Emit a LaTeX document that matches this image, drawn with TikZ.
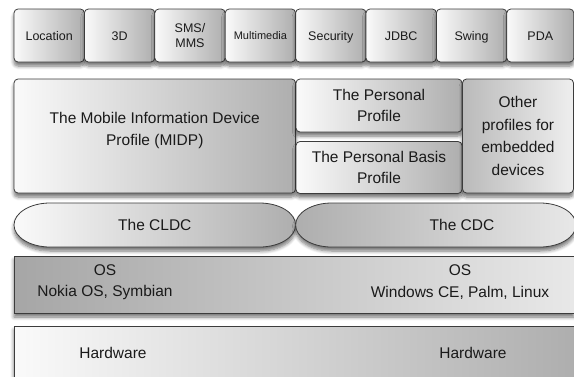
\documentclass[tikz,border=0pt]{standalone}
\usepackage{fontspec}
\setmainfont{Liberation Sans}
\usetikzlibrary{shadows.blur}
\definecolor{bord}{HTML}{3C3C3C}
\definecolor{txt}{HTML}{1A1A1A}
\definecolor{lite}{HTML}{FAFAFA}
\definecolor{dark}{HTML}{AEAEAE}
\definecolor{osdark}{HTML}{A6A6A6}
\definecolor{osmid}{HTML}{E2E2E2}
\definecolor{oslite}{HTML}{E8E8E8}
\begin{document}
\begin{tikzpicture}[x=1pt,y=-1pt,
  shad/.style={blur shadow={shadow xshift=0pt,shadow yshift=-4pt,shadow blur steps=6,shadow opacity=55,shadow blur radius=3.5pt}},
  box/.style={draw=bord,line width=0.8pt,rounded corners=4pt,inner sep=0pt,align=center,text=txt,shad,left color=lite,right color=dark},
  topbox/.style={box,minimum width=70.4pt,minimum height=53pt,font=\fontsize{12.5}{15}\selectfont},
  one/.style={text height=9pt,text depth=0pt},
  big/.style={font=\fontsize{15.5}{21.5}\selectfont,text=txt,align=center,inner sep=0pt},
  capsule/.style={draw=bord,line width=0.8pt,shad}]
\useasboundingbox (0,0) rectangle (574,376);
% top row
\node[topbox,one] (loc) at (49.2,35.5) {Location};
\node[topbox,one] (tdd) at (119.6,35.5) {3D};
\node[topbox] (sms) at (190.0,35.5) {SMS/\\MMS};
\node[topbox,one,font=\fontsize{11}{13}\selectfont,text height=8pt] (mm) at (260.4,35.5) {Multimedia};
\node[topbox,one] (sec) at (330.8,35.5) {Security};
\node[topbox,one] (jdbc) at (401.2,35.5) {JDBC};
\node[topbox,one] (swing) at (471.6,35.5) {Swing};
\node[topbox,one,minimum width=67pt] (pda) at (540.3,35.5) {PDA};
% profiles
\node[box,minimum width=281.6pt,minimum height=114pt] (midp) at (154.8,136) {};
\node[big] (midpt) at (154.8,130.5) {The Mobile Information Device\\Profile (MIDP)};
\node[box,big,minimum width=166pt,minimum height=53pt,left color=lite,right color=dark] (pp) at (379,105.5) {The Personal\\Profile};
\node[box,big,minimum width=166pt,minimum height=52pt,left color=lite,right color=dark] (pbp) at (379,167.5) {The Personal Basis\\Profile};
\node[box,big,minimum width=111pt,minimum height=114pt,left color=dark!85,right color=lite!85!dark,font=\fontsize{15.5}{22.5}\selectfont] (other) at (518,136) {Other\\profiles for\\embedded\\devices};
% configurations
\path[capsule,left color=lite,right color=dark]
  (50,203) -- (259.6,203) arc[start angle=90,end angle=-90,x radius=36pt,y radius=22pt]
  -- (50,247) arc[start angle=270,end angle=90,x radius=36pt,y radius=22pt] -- cycle;
\path[capsule,left color=dark,right color=oslite]
  (331.6,203) -- (540,203) arc[start angle=90,end angle=-90,x radius=36pt,y radius=22pt]
  -- (331.6,247) arc[start angle=270,end angle=90,x radius=36pt,y radius=22pt] -- cycle;
\node[big] (cldc) at (154.8,225) {The CLDC};
\node[big] (cdc) at (462,225) {The CDC};
% OS
\node[box,rounded corners=0pt,minimum width=560pt,minimum height=57pt,left color=osdark,middle color=osmid,right color=oslite] (os) at (294,284.5) {};
\node[big] (osl) at (105,282) {OS\\Nokia OS, Symbian};
\node[big] (osr) at (460,282) {OS\\Windows CE, Palm, Linux};
% hardware
\node[box,rounded corners=0pt,minimum width=562pt,minimum height=60pt,left color=lite,right color=dark] (hw) at (295,356) {};
\node[big] (hwl) at (113,353) {Hardware};
\node[big] (hwr) at (473,353) {Hardware};
\end{tikzpicture}
\end{document}
